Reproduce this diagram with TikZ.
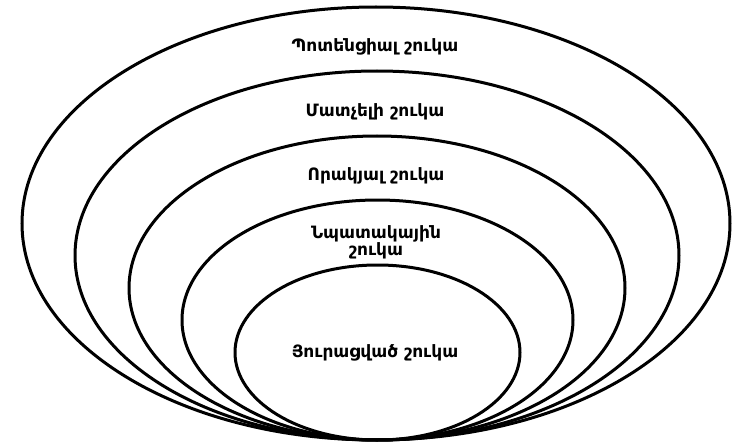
\documentclass[tikz,border=0pt]{standalone}
\usepackage{fontspec}
\newfontfamily\armfont{DejaVu Sans}
\begin{document}
\begin{tikzpicture}[x=1pt,y=-1pt,
  ring/.style={draw=black,line width=3pt},
  lbl/.style={font=\armfont\bfseries\fontsize{17}{13}\selectfont,align=center,inner sep=0pt}]
\useasboundingbox (0,0) rectangle (732,444);
\draw[ring] (376,223.5) ellipse [x radius=354,y radius=216.5];
\draw[ring] (377,255.5) ellipse [x radius=302,y radius=184.5];
\draw[ring] (377,288) ellipse [x radius=248,y radius=152];
\draw[ring] (377.5,320) ellipse [x radius=195.5,y radius=120];
\draw[ring] (377.5,352.5) ellipse [x radius=142.5,y radius=87.5];
\node[lbl] (t1) at (375,47) {Պոտենցիալ շուկա};
\node[lbl] (t2) at (375,112) {Մատչելի շուկա};
\node[lbl] (t3) at (376,176) {Որակյալ շուկա};
\node[lbl] (t4) at (376,242.5) {Նպատակային\\շուկա};
\node[lbl] (t5) at (375,353) {Յուրացված շուկա};
\end{tikzpicture}
\end{document}
